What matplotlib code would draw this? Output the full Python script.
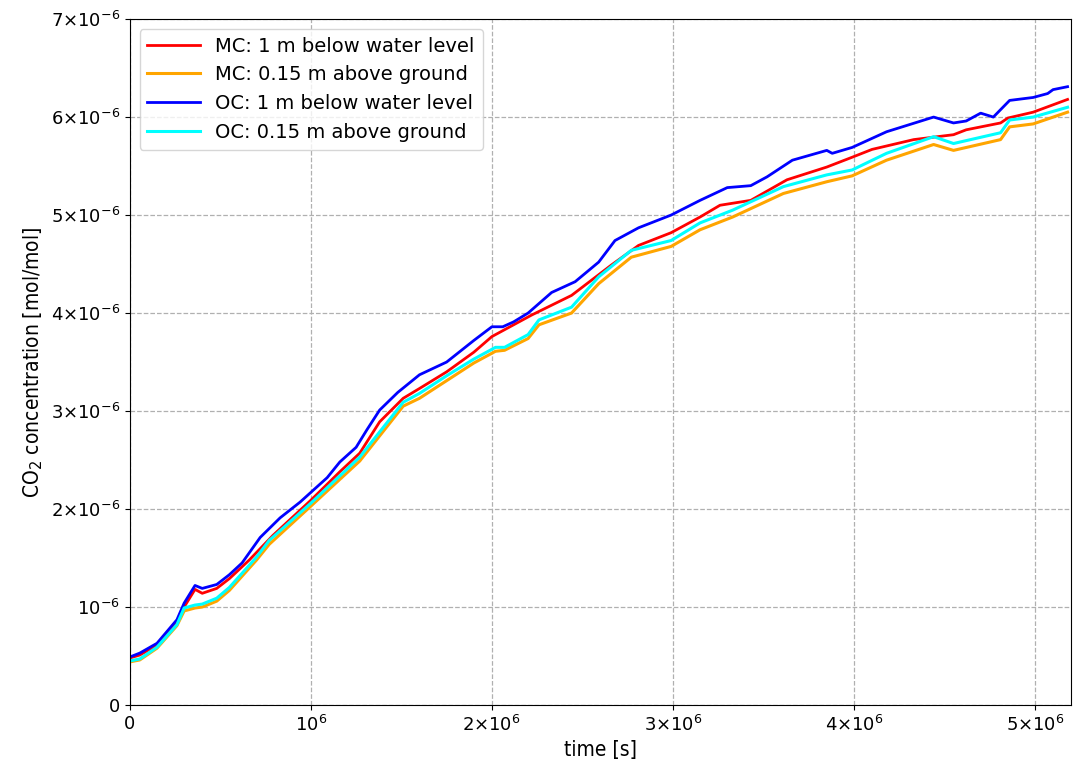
import numpy as np
import matplotlib.pyplot as plt
from matplotlib.ticker import FuncFormatter, MultipleLocator

# time in units of 1e6 s, concentration in units of 1e-6 mol/mol
t_mc_below = [0, 0.055, 0.15, 0.26, 0.30, 0.36, 0.40, 0.48, 0.55, 0.66, 0.79, 1.0, 1.16, 1.27, 1.38,
              1.51, 1.60, 1.75, 1.90, 2.0, 2.22, 2.44, 2.66, 2.81, 2.99, 3.15, 3.26, 3.43, 3.63, 3.85,
              3.99, 4.10, 4.33, 4.55, 4.62, 4.81, 4.85, 4.99, 5.18]
c_mc_below = [0.48, 0.51, 0.61, 0.84, 1.0, 1.18, 1.14, 1.19, 1.29, 1.48, 1.73, 2.09, 2.38, 2.57, 2.89,
              3.13, 3.23, 3.40, 3.60, 3.76, 3.98, 4.18, 4.49, 4.69, 4.82, 4.98, 5.10, 5.15, 5.36, 5.49,
              5.59, 5.67, 5.77, 5.82, 5.87, 5.94, 5.99, 6.05, 6.18]

t_ground = [0, 0.055, 0.15, 0.26, 0.30, 0.36, 0.40, 0.48, 0.55, 0.70, 0.77, 1.0, 1.27, 1.51, 1.60,
            1.75, 1.90, 2.02, 2.07, 2.2, 2.26, 2.44, 2.59, 2.77, 2.99, 3.15, 3.33, 3.61, 3.85, 3.99,
            4.18, 4.44, 4.55, 4.81, 4.86, 4.99, 5.18]
c_mc_ground = [0.44, 0.46, 0.58, 0.81, 0.96, 0.99, 1.0, 1.06, 1.17, 1.48, 1.64, 2.03, 2.49, 3.05, 3.13,
               3.31, 3.49, 3.61, 3.62, 3.74, 3.88, 4.0, 4.30, 4.57, 4.68, 4.85, 4.98, 5.22, 5.34, 5.40,
               5.56, 5.72, 5.66, 5.77, 5.90, 5.93, 6.05]
c_oc_ground = [0.45, 0.47, 0.59, 0.82, 0.99, 1.02, 1.03, 1.09, 1.20, 1.51, 1.68, 2.06, 2.53, 3.09, 3.18,
               3.36, 3.53, 3.65, 3.65, 3.78, 3.93, 4.06, 4.37, 4.64, 4.74, 4.92, 5.05, 5.29, 5.41, 5.46,
               5.63, 5.80, 5.73, 5.84, 5.97, 6.0, 6.10]

t_oc_below = [0, 0.055, 0.15, 0.26, 0.30, 0.36, 0.40, 0.48, 0.55, 0.62, 0.72, 0.83, 0.94, 1.0, 1.09,
              1.16, 1.25, 1.31, 1.38, 1.48, 1.60, 1.75, 1.90, 2.0, 2.06, 2.12, 2.2, 2.33, 2.46, 2.59,
              2.68, 2.81, 2.99, 3.15, 3.30, 3.43, 3.52, 3.66, 3.85, 3.88, 3.99, 4.18, 4.44, 4.55,
              4.62, 4.70, 4.77, 4.86, 4.99, 5.07, 5.10, 5.18]
c_oc_below = [0.49, 0.53, 0.63, 0.87, 1.04, 1.22, 1.19, 1.23, 1.33, 1.45, 1.71, 1.91, 2.07, 2.17, 2.32,
              2.48, 2.63, 2.81, 3.01, 3.19, 3.37, 3.50, 3.72, 3.86, 3.86, 3.91, 4.0, 4.21, 4.32, 4.52,
              4.74, 4.87, 5.0, 5.15, 5.28, 5.30, 5.39, 5.56, 5.66, 5.63, 5.69, 5.85, 6.0, 5.94,
              5.96, 6.04, 6.0, 6.17, 6.2, 6.24, 6.28, 6.31]


def sci_fmt(v, pos):
    if v == 0:
        return '0'
    exp = int(np.floor(np.log10(abs(v)) + 1e-9))
    mant = v / 10**exp
    if abs(mant - 1) < 1e-6:
        return r'$10^{%d}$' % exp
    return r'$%d{\times}10^{%d}$' % (round(mant), exp)


fig = plt.figure(figsize=(10.82, 7.63), dpi=100)
ax = fig.add_axes([0.120, 0.076, 0.870, 0.899])

ax.plot(np.array(t_mc_below) * 1e6, np.array(c_mc_below) * 1e-6, color='red', lw=2.0,
        label='MC: 1 m below water level')
ax.plot(np.array(t_ground) * 1e6, np.array(c_mc_ground) * 1e-6, color='orange', lw=2.2,
        label='MC: 0.15 m above ground')
ax.plot(np.array(t_oc_below) * 1e6, np.array(c_oc_below) * 1e-6, color='blue', lw=2.0,
        label='OC: 1 m below water level')
ax.plot(np.array(t_ground) * 1e6, np.array(c_oc_ground) * 1e-6, color='cyan', lw=2.2,
        label='OC: 0.15 m above ground')

ax.set_xlim(0, 5.2e6)
ax.set_ylim(0, 7e-6)
ax.xaxis.set_major_locator(MultipleLocator(1e6))
ax.yaxis.set_major_locator(MultipleLocator(1e-6))
ax.xaxis.set_major_formatter(FuncFormatter(sci_fmt))
ax.yaxis.set_major_formatter(FuncFormatter(sci_fmt))
ax.tick_params(labelsize=13)

ax.grid(True, linestyle='--', color='#b0b0b0', linewidth=0.9)

ax.set_xlabel('time [s]', family='DejaVu Sans', stretch='condensed', fontsize=15)
ax.set_ylabel('CO$_2$ concentration [mol/mol]', family='DejaVu Sans', stretch='condensed',
              fontsize=15)

ax.legend(loc='upper left', fontsize=14, handlelength=2.7)

fig.savefig('out.png', dpi=100)
